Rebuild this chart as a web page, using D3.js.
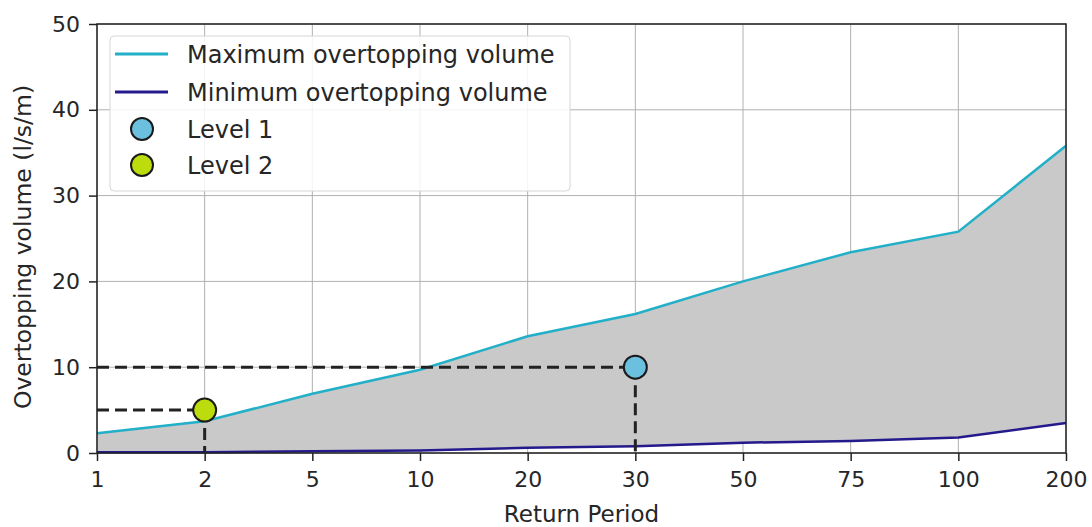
<!DOCTYPE html>
<html>
<head>
<meta charset="utf-8">
<script src="https://cdn.jsdelivr.net/npm/d3@7"></script>
<style>
  body { margin: 0; background: #fff; }
  svg text { font-family: "DejaVu Sans", sans-serif; fill: #262626; }
</style>
</head>
<body>
<div id="chart"></div>
<script>
// return periods (categorical x axis)
const periods = ['1', '2', '5', '10', '20', '30', '50', '75', '100', '200'];
const maxVolume = [2.3, 3.7, 6.9, 9.7, 13.6, 16.2, 20.0, 23.4, 25.8, 35.8];
const minVolume = [0.1, 0.1, 0.2, 0.3, 0.6, 0.8, 1.2, 1.4, 1.8, 3.5];
const levels = [
    { name: 'Level 1', period: '30', value: 10, color: '#6cc0df' },
    { name: 'Level 2', period: '2', value: 5, color: '#bcdc0e' }
];
const yTicks = [0, 10, 20, 30, 40, 50];

const width = 1092, height = 527;
const margin = { top: 24, right: 26, bottom: 74, left: 97 };
const innerW = width - margin.left - margin.right;
const innerH = height - margin.top - margin.bottom;

const svg = d3.select('#chart')
    .append('svg')
    .attr('width', width)
    .attr('height', height);

const g = svg.append('g')
    .attr('transform', `translate(${margin.left},${margin.top})`);

const x = d3.scalePoint()
    .domain(periods)
    .range([0, innerW]);

const y = d3.scaleLinear()
    .domain([0, 50])
    .range([innerH, 0]);

// grid
g.append('g')
    .selectAll('line.vg')
    .data(periods)
    .enter()
    .append('line')
    .attr('x1', d => x(d)).attr('x2', d => x(d))
    .attr('y1', 0).attr('y2', innerH)
    .attr('stroke', '#b0b0b0')
    .attr('stroke-width', 1);

g.append('g')
    .selectAll('line.hg')
    .data(yTicks)
    .enter()
    .append('line')
    .attr('x1', 0).attr('x2', innerW)
    .attr('y1', d => y(d)).attr('y2', d => y(d))
    .attr('stroke', '#b0b0b0')
    .attr('stroke-width', 1);

// filled band between min and max
const rows = periods.map((p, i) => ({ p: p, lo: minVolume[i], hi: maxVolume[i] }));

const area = d3.area()
    .x(d => x(d.p))
    .y0(d => y(d.lo))
    .y1(d => y(d.hi));

g.append('path')
    .datum(rows)
    .attr('d', area)
    .attr('fill', '#c9c9c9');

const line = d3.line()
    .x(d => x(d.p))
    .y(d => y(d.v));

g.append('path')
    .datum(periods.map((p, i) => ({ p: p, v: maxVolume[i] })))
    .attr('d', line)
    .attr('fill', 'none')
    .attr('stroke', '#22b0c8')
    .attr('stroke-width', 2.5);

g.append('path')
    .datum(periods.map((p, i) => ({ p: p, v: minVolume[i] })))
    .attr('d', line)
    .attr('fill', 'none')
    .attr('stroke', '#241a8c')
    .attr('stroke-width', 2.5);

// dashed guides to level markers
levels.forEach(lv => {
    g.append('line')
        .attr('x1', 0).attr('x2', x(lv.period))
        .attr('y1', y(lv.value)).attr('y2', y(lv.value))
        .attr('stroke', '#222')
        .attr('stroke-width', 3)
        .attr('stroke-dasharray', '12,6');
    g.append('line')
        .attr('x1', x(lv.period)).attr('x2', x(lv.period))
        .attr('y1', y(lv.value)).attr('y2', innerH)
        .attr('stroke', '#222')
        .attr('stroke-width', 3)
        .attr('stroke-dasharray', '12,6');
});

g.selectAll('circle.level')
    .data(levels)
    .enter()
    .append('circle')
    .attr('cx', d => x(d.period))
    .attr('cy', d => y(d.value))
    .attr('r', 11.5)
    .attr('fill', d => d.color)
    .attr('stroke', '#1a1a1a')
    .attr('stroke-width', 2);

// axes
const xAxis = g.append('g')
    .attr('transform', `translate(0,${innerH})`)
    .call(d3.axisBottom(x).tickSize(8).tickPadding(10));

const yAxis = g.append('g')
    .call(d3.axisLeft(y).tickValues(yTicks).tickSize(8).tickPadding(9));

[xAxis, yAxis].forEach(ax => {
    ax.select('.domain').remove();
    ax.selectAll('line').attr('stroke', '#222').attr('stroke-width', 1.5);
    ax.selectAll('text')
        .attr('font-size', 22)
        .attr('font-family', '"DejaVu Sans", sans-serif')
        .attr('fill', '#262626');
});

g.append('rect')
    .attr('x', 0).attr('y', 0)
    .attr('width', innerW).attr('height', innerH)
    .attr('fill', 'none')
    .attr('stroke', '#222')
    .attr('stroke-width', 1.5);

svg.append('text')
    .attr('x', margin.left + innerW / 2)
    .attr('y', 522)
    .attr('text-anchor', 'middle')
    .attr('font-size', 23)
    .text('Return Period');

svg.append('text')
    .attr('transform', `translate(31,247) rotate(-90)`)
    .attr('text-anchor', 'middle')
    .attr('font-size', 23.5)
    .text('Overtopping volume (l/s/m)');

// legend
const legendItems = [
    { label: 'Maximum overtopping volume', type: 'line', color: '#22b0c8' },
    { label: 'Minimum overtopping volume', type: 'line', color: '#241a8c' },
    { label: levels[0].name, type: 'dot', color: levels[0].color },
    { label: levels[1].name, type: 'dot', color: levels[1].color }
];

const legend = svg.append('g')
    .attr('transform', 'translate(110,36)');

legend.append('rect')
    .attr('width', 460).attr('height', 155)
    .attr('rx', 4)
    .attr('fill', 'rgba(255,255,255,0.85)')
    .attr('stroke', '#d6d6d6')
    .attr('stroke-width', 1);

const entry = legend.selectAll('g.entry')
    .data(legendItems)
    .enter()
    .append('g')
    .attr('transform', (d, i) => `translate(0,${[18, 56, 93, 129][i]})`);

entry.filter(d => d.type === 'line')
    .append('line')
    .attr('x1', 5).attr('x2', 58)
    .attr('stroke', d => d.color)
    .attr('stroke-width', 3);

entry.filter(d => d.type === 'dot')
    .append('circle')
    .attr('cx', 32)
    .attr('r', 11)
    .attr('fill', d => d.color)
    .attr('stroke', '#1a1a1a')
    .attr('stroke-width', 2);

entry.append('text')
    .attr('x', 77)
    .attr('dy', '0.36em')
    .attr('font-size', 24)
    .text(d => d.label);
</script>
</body>
</html>
